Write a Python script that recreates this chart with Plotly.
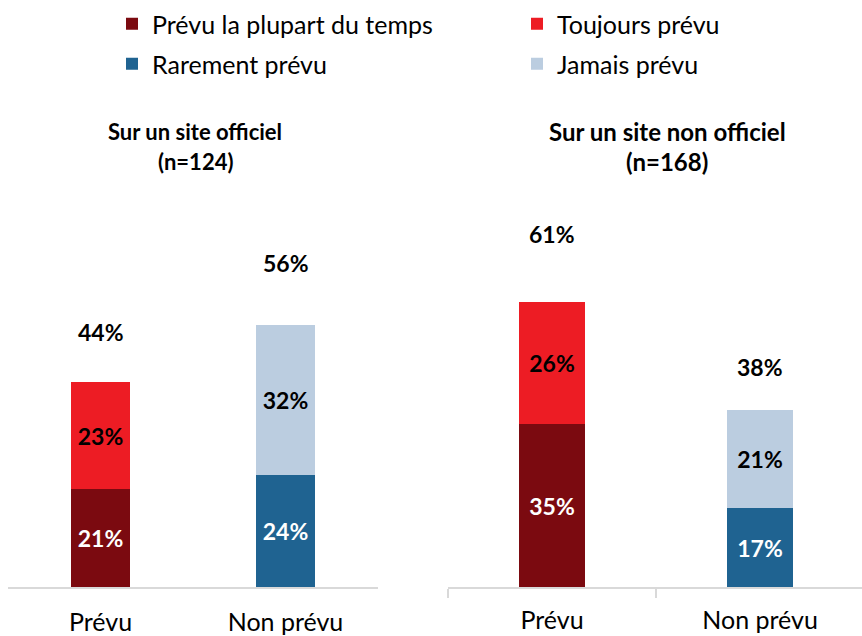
import plotly.graph_objects as go

categories = ["Prévu", "Non prévu"]
panels = ["Sur un site officiel", "Sur un site non officiel"]
panel_n = ["(n=124)", "(n=168)"]

series_names = ["Prévu la plupart du temps", "Toujours prévu", "Rarement prévu", "Jamais prévu"]
series_cat = ["Prévu", "Prévu", "Non prévu", "Non prévu"]
# values per panel: [officiel, non officiel]
plupart = [21, 35]
toujours = [23, 26]
rarement = [24, 17]
jamais = [32, 21]
totals_prevu = [44, 61]
totals_non = [56, 38]

colors = ["#7B0A10", "#ED1C24", "#1F6391", "#BBCDE0"]
text_colors = ["white", "black", "white", "black"]

FONT = "Lato"
W, H = 862, 636


def py(px):
    return 1 - px / H


fig = go.Figure()
series_vals = [plupart, toujours, rarement, jamais]
legend_ids = ["legend", "legend2", "legend3", "legend4"]
for p in range(2):
    xa = "x" if p == 0 else "x2"
    ya = "y" if p == 0 else "y2"
    for i, name in enumerate(series_names):
        fig.add_trace(go.Bar(
            x=[series_cat[i]], y=[series_vals[i][p]], name=name,
            marker=dict(color=colors[i], line=dict(width=0)),
            text=[f"{series_vals[i][p]}%"], textposition="inside",
            insidetextanchor="middle",
            textfont=dict(family=FONT, size=23, color=text_colors[i], weight="bold"),
            xaxis=xa, yaxis=ya, width=0.32,
            showlegend=(p == 0),
            legend=legend_ids[i],
            hoverinfo="skip",
        ))
    for cat, tot in zip(categories, [totals_prevu[p], totals_non[p]]):
        fig.add_annotation(x=cat, y=tot * 1.24, xref=xa, yref=ya,
                           text=f"{tot}%", showarrow=False, yanchor="middle",
                           font=dict(family=FONT, size=23, color="black", weight="bold"))

bottom = py(587)
top = py(90)
scale = 4.67
yr = (587 - 90) / scale

legend_pos = [(112, 24), (517, 24), (112, 64), (517, 64)]
legend_layouts = {}
for lid, (lx, ly) in zip(legend_ids, legend_pos):
    legend_layouts[lid] = dict(orientation="h", x=lx / W, y=py(ly), xanchor="left", yanchor="middle",
                               font=dict(family=FONT, size=25, color="black"),
                               bgcolor="rgba(0,0,0,0)", traceorder="normal")

fig.update_layout(
    width=W, height=H, margin=dict(l=0, r=0, t=0, b=0),
    paper_bgcolor="white", plot_bgcolor="white",
    barmode="stack", bargap=0,
    font=dict(family=FONT, size=25, color="black"),
    xaxis=dict(domain=[8 / W, 378 / W], range=[-0.5, 1.5], showline=True, linecolor="#D9D9D9",
               linewidth=2, ticks="outside", ticklen=10, tickcolor="rgba(0,0,0,0)",
               ticklabelstandoff=2,
               tickfont=dict(family=FONT, size=25), showgrid=False, zeroline=False,
               categoryorder="array", categoryarray=categories, fixedrange=True, anchor="y"),
    xaxis2=dict(domain=[448 / W, 1], range=[-0.5, 1.49], showline=True, linecolor="#D9D9D9",
                linewidth=2, ticks="outside", ticklen=9, tickcolor="#D9D9D9", tickwidth=2,
                tickson="boundaries", ticklabelstandoff=10,
                tickfont=dict(family=FONT, size=25), showgrid=False, zeroline=False,
                categoryorder="array", categoryarray=categories, fixedrange=True, anchor="y2"),
    yaxis=dict(domain=[bottom, top], range=[0, yr], visible=False, fixedrange=True, anchor="x"),
    yaxis2=dict(domain=[bottom, top], range=[0, yr], visible=False, fixedrange=True, anchor="x2"),
    **legend_layouts,
)

title_x = [195, 667]
title_size = [22, 24]
for p in range(2):
    fig.add_annotation(x=title_x[p] / W, y=py(132), xref="paper", yref="paper",
                       text=panels[p], showarrow=False, xanchor="center", yanchor="middle",
                       font=dict(family=FONT, size=title_size[p], color="black", weight="bold"))
    fig.add_annotation(x=title_x[p] / W, y=py(161), xref="paper", yref="paper",
                       text=panel_n[p], showarrow=False, xanchor="center", yanchor="middle",
                       font=dict(family=FONT, size=title_size[p], color="black", weight="bold"))

fig.write_html("out.html", config={"displayModeBar": False},
               post_script="document.body.style.margin='0';document.body.style.overflow='hidden';")
